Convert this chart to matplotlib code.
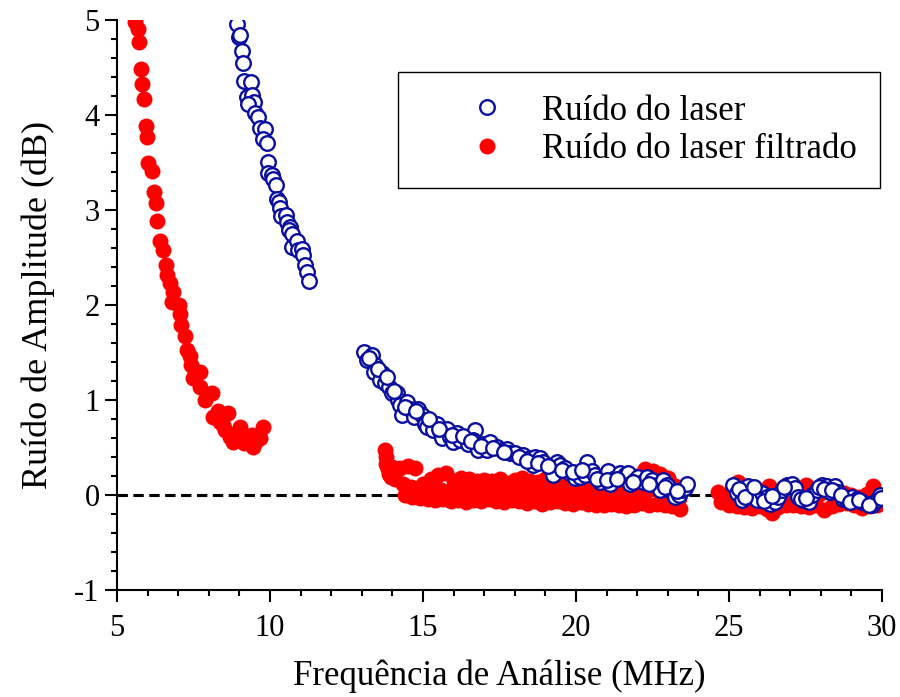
import numpy as np
import matplotlib
matplotlib.use('Agg')
import matplotlib.pyplot as plt

plt.rcParams['font.family'] = ['Liberation Serif', 'DejaVu Serif']
plt.rcParams['axes.unicode_minus'] = False

# Ruido do laser (sem filtro), tres trechos de medida
laser_f = [8.91, 8.99, 9.02, 9.07, 9.13, 9.16, 9.38, 9.24, 9.42, 9.49, 9.29, 9.51, 9.62,
           9.67, 9.84, 9.78, 9.89, 9.92, 9.94, 10.06, 10.11, 10.19, 10.22, 10.29, 10.33,
           10.36, 10.51, 10.55, 10.65, 10.62, 10.71, 10.76, 10.73, 10.87, 10.92, 11.06,
           11.09, 11.14, 11.20, 11.27,
           13.07, 13.32, 13.16, 13.43, 13.40, 13.65, 13.59, 13.76, 13.90, 13.98, 14.14,
           14.19, 14.25, 14.49, 14.30, 14.58, 14.69, 14.85, 14.96, 15.07, 15.23, 15.12,
           15.45, 15.34, 15.56, 15.77, 15.61, 15.88, 16.10, 15.99, 16.21, 16.37, 16.48,
           16.70, 16.65, 16.81, 16.97, 17.19, 17.08, 17.41, 17.57, 17.74, 17.84, 18.01,
           18.28, 18.50, 18.66, 18.82, 18.93, 18.60, 19.20, 19.37, 19.48, 19.26, 19.64,
           19.80, 19.97, 20.13, 20.35, 20.29, 20.51, 20.62, 20.78, 20.89, 21.06, 21.11,
           21.27, 21.44, 21.60, 21.71, 21.76, 21.93, 22.04, 22.20, 22.31, 22.47, 22.64,
           22.75, 22.85, 22.96, 23.13, 23.24, 23.35, 23.45, 23.56, 23.62,
           13.24, 13.52, 13.83, 14.05, 14.40, 14.77, 15.18, 15.52, 15.95, 16.30, 16.57,
           16.90, 17.30, 17.66, 18.15, 18.40, 18.75, 19.10, 19.55, 19.90, 20.20, 20.70,
           21.00, 21.35, 21.85, 22.40, 22.90, 23.30,
           25.14, 25.25, 25.41, 25.63, 25.74, 25.90, 26.07, 26.23, 26.34, 26.50, 26.61,
           26.72, 26.89, 27.05, 27.16, 27.27, 27.43, 27.60, 27.70, 27.86, 28.03, 28.19,
           28.30, 28.46, 28.57, 28.74, 28.85, 29.01, 29.17, 29.34, 29.50, 29.66, 29.83,
           29.93, 25.33, 25.52, 25.82, 26.15, 26.42, 26.80, 27.35, 27.52, 27.95, 28.10,
           28.38, 28.65, 28.95, 29.25, 29.58, 29.98]
laser_db = [4.96, 4.82, 4.84, 4.68, 4.55, 4.36, 4.35, 4.19, 4.21, 4.14, 4.12, 4.02, 3.98,
            3.86, 3.85, 3.75, 3.71, 3.51, 3.39, 3.37, 3.33, 3.27, 3.12, 3.09, 3.02,
            2.94, 2.95, 2.88, 2.82, 2.79, 2.75, 2.61, 2.61, 2.68, 2.58, 2.59,
            2.53, 2.42, 2.35, 2.25,
            1.51, 1.47, 1.42, 1.37, 1.30, 1.29, 1.21, 1.18, 1.14, 1.07, 1.07,
            1.00, 0.95, 0.98, 0.84, 0.91, 0.82, 0.91, 0.84, 0.75, 0.77, 0.72,
            0.75, 0.68, 0.67, 0.70, 0.60, 0.61, 0.65, 0.56, 0.58, 0.61, 0.54,
            0.69, 0.58, 0.47, 0.54, 0.56, 0.47, 0.51, 0.47, 0.49, 0.44, 0.44,
            0.42, 0.39, 0.40, 0.39, 0.35, 0.32, 0.30, 0.35, 0.32, 0.21, 0.28,
            0.23, 0.18, 0.19, 0.35, 0.21, 0.25, 0.21, 0.14, 0.19, 0.25, 0.12,
            0.18, 0.23, 0.21, 0.23, 0.12, 0.16, 0.19, 0.14, 0.19, 0.16, 0.11,
            0.05, 0.16, 0.11, 0.03, -0.02, 0.00, 0.05, 0.07, 0.12,
            1.44, 1.33, 1.24, 1.10, 0.93, 0.88, 0.80, 0.70, 0.63, 0.62, 0.57,
            0.52, 0.50, 0.45, 0.40, 0.36, 0.34, 0.31, 0.26, 0.24, 0.26, 0.17,
            0.16, 0.17, 0.14, 0.12, 0.08, 0.04,
            0.11, 0.02, -0.05, 0.09, 0.02, -0.05, 0.02, -0.02, -0.09, -0.07, -0.02,
            0.05, 0.11, 0.12, 0.07, -0.02, -0.05, -0.07, 0.00, 0.05, 0.11, 0.09,
            0.03, 0.09, 0.03, -0.04, -0.05, -0.02, -0.04, -0.07, -0.09, -0.11, -0.05,
            0.00, 0.06, -0.02, 0.08, -0.06, -0.01, 0.08, -0.04, -0.03, 0.08, 0.06,
            0.05, 0.00, -0.07, -0.05, -0.10, -0.03]

# Ruido do laser filtrado
filt_f = [5.59, 5.70, 5.73, 5.77, 5.83, 5.88, 5.94, 5.98, 6.02, 6.13, 6.20, 6.27, 6.31,
          6.41, 6.51, 6.59, 6.62, 6.73, 6.84, 6.79, 7.03, 7.06, 7.08, 7.22, 7.28, 7.39,
          7.41, 7.55, 7.49, 7.71, 7.71, 7.88, 8.12, 8.15, 8.31, 8.37, 8.64, 8.53, 8.69,
          8.80, 9.02, 9.07, 9.24, 9.40, 9.46, 9.67, 9.78, 8.45, 8.90, 9.15, 9.55,
          13.76, 13.78, 13.80, 13.84, 13.90, 13.95,
          14.00, 14.25, 14.50, 14.75, 15.00, 15.25, 15.50, 15.75, 16.00, 16.25, 16.50,
          16.75, 17.00, 17.25, 17.50, 17.75, 18.00, 18.25, 18.50, 18.75, 19.00, 19.25,
          19.50, 19.75, 20.00, 20.25, 20.50, 20.75, 21.00, 21.25, 21.50, 21.75, 22.00,
          22.25, 22.50, 22.75, 23.00, 23.25,
          14.10, 14.35, 14.60, 14.85, 15.10, 15.35, 15.60, 15.85, 16.10, 16.35, 16.60,
          16.85, 17.10, 17.35, 17.60, 17.85, 18.10, 18.35, 18.60, 18.85, 19.10, 19.35,
          19.60, 19.85, 20.10, 20.35, 20.60, 20.85, 21.10, 21.35, 21.60, 21.85, 22.10,
          22.35, 22.60, 22.85, 23.10, 23.35,
          14.40, 14.65, 14.90, 15.15, 15.40, 15.65, 15.90, 16.15, 16.40, 16.65, 16.90,
          17.15, 17.40, 17.65, 17.90, 18.15, 18.40, 18.65, 18.90, 19.15, 19.40, 19.65,
          19.90, 20.15, 20.40, 20.65, 20.90, 21.15, 21.40, 21.65, 21.90, 22.15, 22.40,
          22.65, 22.90, 23.15, 23.40,
          24.65, 24.90, 25.15, 25.30, 25.55, 25.80, 26.05, 26.30, 26.55, 26.80, 27.05,
          27.30, 27.50, 27.75, 28.00, 28.25, 28.50, 28.75, 29.00, 29.25, 29.50, 29.70,
          29.95,
          24.75, 25.00, 25.25, 25.50, 25.75, 26.00, 26.25, 26.40, 26.60, 26.85, 27.10,
          27.35, 27.60, 27.85, 28.10, 28.35, 28.60, 28.85, 29.10, 29.35, 29.60, 29.85]
filt_db = [4.98, 4.91, 4.77, 4.49, 4.33, 4.17, 3.89, 3.77, 3.50, 3.41, 3.19, 3.07, 2.89,
           2.68, 2.58, 2.42, 2.32, 2.23, 2.14, 2.03, 2.00, 1.91, 1.79, 1.68, 1.53, 1.46,
           1.37, 1.28, 1.23, 1.30, 1.14, 1.00, 1.07, 0.82, 0.89, 0.77, 0.86, 0.68, 0.61,
           0.56, 0.72, 0.61, 0.58, 0.63, 0.51, 0.60, 0.72, 0.74, 0.62, 0.55, 0.57,
           0.47, 0.40, 0.33, 0.27, 0.22, 0.19,
           0.30, 0.29, 0.31, 0.29, 0.12, 0.17, 0.21, 0.23, 0.15, 0.18, 0.17,
           0.15, 0.16, 0.15, 0.17, 0.13, 0.16, 0.18, 0.15, 0.14, 0.17, 0.12,
           0.13, 0.14, 0.12, 0.10, 0.12, 0.10, 0.09, 0.11, 0.10, 0.12, 0.20,
           0.27, 0.25, 0.22, 0.18, 0.10,
           0.17, 0.12, 0.08, 0.06, 0.05, 0.06, 0.05, 0.04, 0.06, 0.03, 0.05,
           0.04, 0.03, 0.05, 0.02, 0.04, 0.03, 0.05, 0.02, 0.03, 0.04, 0.01,
           0.03, 0.02, 0.00, 0.02, 0.01, -0.01, 0.02, 0.00, 0.01, -0.01, 0.03,
           0.05, 0.06, 0.02, 0.00, -0.03,
           0.00, -0.02, -0.03, -0.04, -0.05, -0.04, -0.06, -0.05, -0.07, -0.05, -0.06,
           -0.04, -0.06, -0.07, -0.05, -0.06, -0.08, -0.06, -0.09, -0.07, -0.06, -0.08,
           -0.09, -0.07, -0.09, -0.10, -0.11, -0.09, -0.10, -0.12, -0.10, -0.08, -0.11,
           -0.09, -0.10, -0.12, -0.15,
           0.03, 0.00, 0.08, 0.14, 0.05, 0.02, 0.04, 0.10, 0.03, 0.05, 0.02,
           0.03, 0.11, 0.04, 0.02, 0.05, 0.04, 0.02, 0.00, -0.02, 0.01, 0.09,
           -0.02,
           -0.07, -0.10, -0.12, -0.13, -0.14, -0.12, -0.15, -0.19, -0.13, -0.10, -0.11,
           -0.12, -0.13, -0.10, -0.16, -0.12, -0.09, -0.08, -0.10, -0.14, -0.12, -0.11]

fig = plt.figure(figsize=(9, 6.97), dpi=100)
ax = fig.add_axes([0.13, 0.1535, 0.85, 0.8175])

ax.plot([5, 30], [0, 0], color='black', lw=2.2, ls=(0, (3.4, 1.8)), zorder=1)
red, = ax.plot(filt_f, filt_db, 'o', color='#ff0000', ms=11.5, mew=0, zorder=2,
               label='Ruído do laser filtrado')
blue, = ax.plot(laser_f, laser_db, 'o', mfc='white', mec='#0a0fa0', ms=10.5, mew=1.7,
                zorder=3, label='Ruído do laser')

ax.set_xlim(5, 30)
ax.set_ylim(-1, 5)
ax.set_xticks(np.arange(5, 31, 5))
ax.set_xticks(np.arange(5, 31, 1), minor=True)
ax.set_yticks(np.arange(-1, 6, 1))
ax.set_yticks(np.arange(-1, 5.01, 0.2), minor=True)

for s in ['top', 'right']:
    ax.spines[s].set_visible(False)
for s in ['left', 'bottom']:
    ax.spines[s].set_linewidth(1.5)
    ax.spines[s].set_clip_on(False)

ax.tick_params(which='major', direction='out', length=8.5, width=1.5, labelsize=22)
ax.tick_params(which='minor', direction='out', length=4.5, width=1.5)
ax.tick_params(axis='x', which='major', pad=9)
ax.tick_params(axis='y', which='major', pad=4)

ax.set_xlabel('Frequência de Análise (MHz)', fontsize=25, labelpad=12)
ax.set_ylabel('Ruído de Amplitude (dB)', fontsize=26, labelpad=14)

leg = ax.legend(handles=[blue, red], loc='upper right', bbox_to_anchor=(0.997, 0.909),
                fontsize=25, frameon=True, fancybox=False, edgecolor='black',
                framealpha=1, borderpad=0.65, labelspacing=0.15, handletextpad=-0.34,
                handlelength=3.85, borderaxespad=0)
leg.get_frame().set_linewidth(1.0)

fig.savefig('out.png', dpi=100)
